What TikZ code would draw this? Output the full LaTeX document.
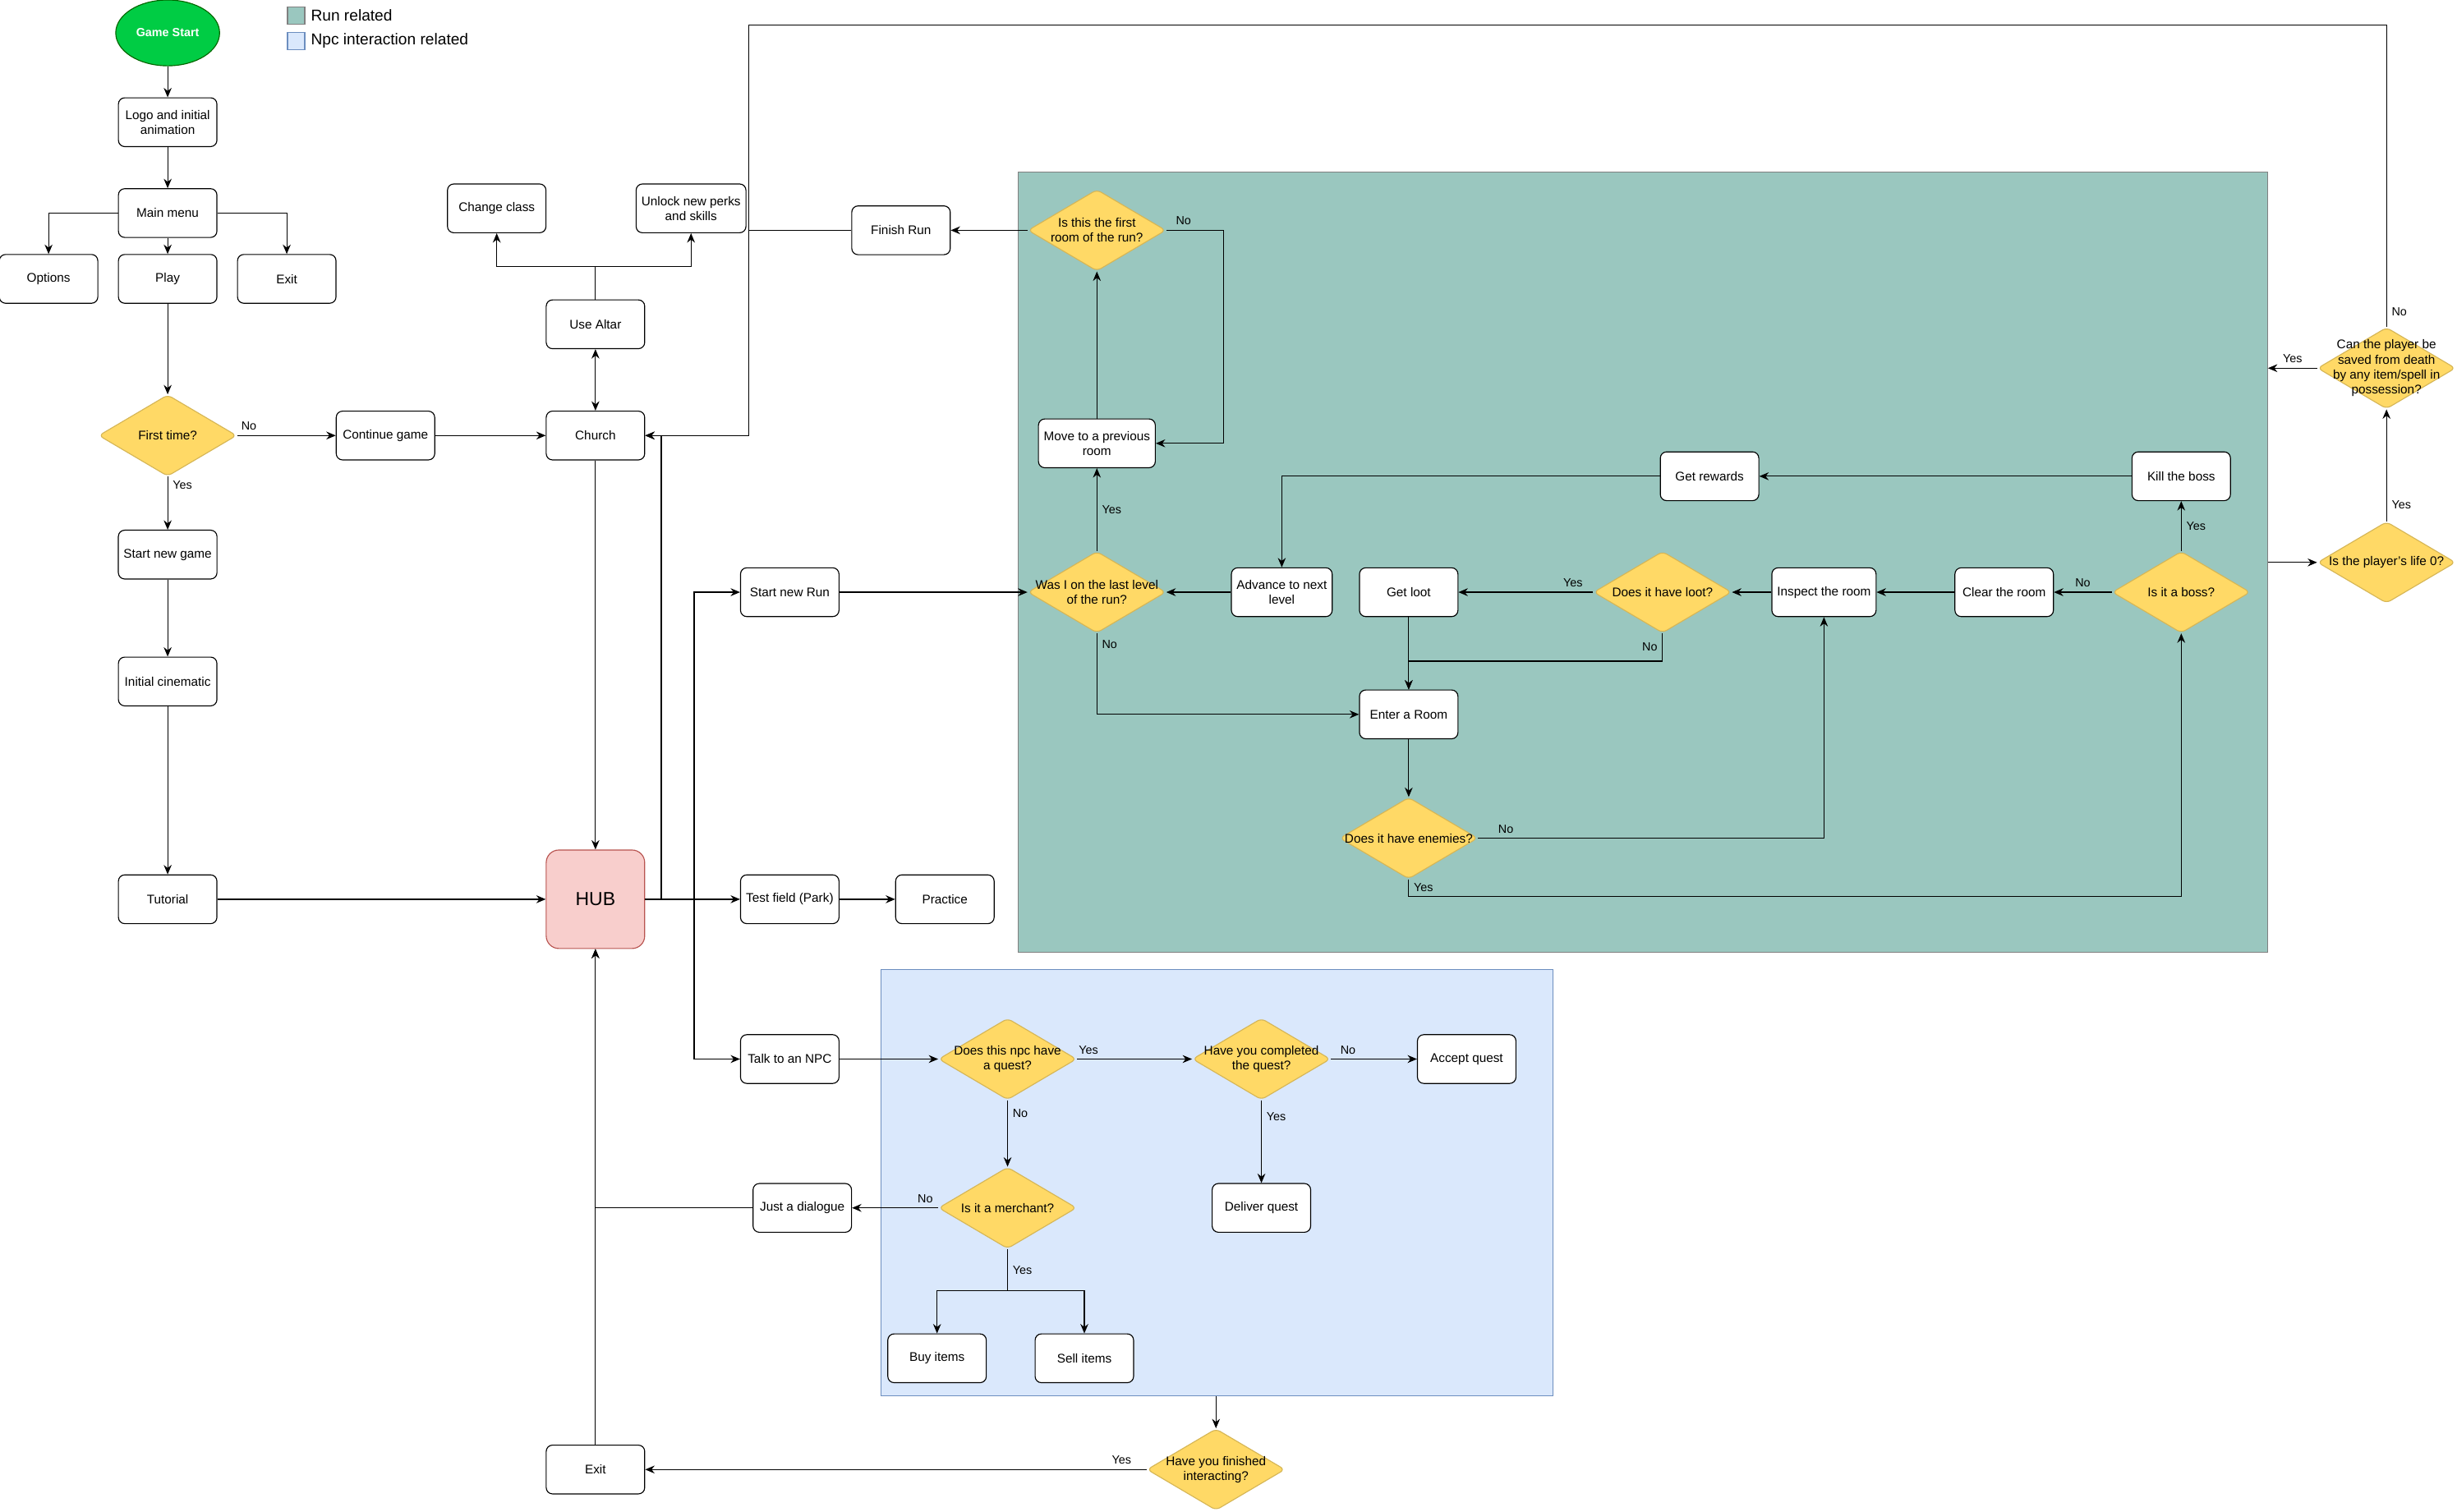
\documentclass[tikz,border=0pt]{standalone}
\usepackage{fontspec}
\setmainfont{Liberation Sans}
\usetikzlibrary{shapes.geometric,arrows.meta}
\definecolor{runfill}{HTML}{9AC7BF}
\definecolor{npcfill}{HTML}{DAE8FC}
\definecolor{npcdraw}{HTML}{6C8EBF}
\definecolor{decfill}{HTML}{FFD966}
\definecolor{decdraw}{HTML}{D6B656}
\definecolor{hubfill}{HTML}{F8CECC}
\definecolor{hubdraw}{HTML}{B85450}
\definecolor{startfill}{HTML}{00CC44}
\tikzset{
	box/.style = {draw, rounded corners = 4pt, fill = white, minimum width = 2.2cm, minimum height = 1.09cm, align = center, font = \fontsize{8}{9.5}\selectfont},
	decision/.style = {draw = decdraw, fill = decfill, diamond, rounded corners = 3pt, minimum width = 3.08cm, minimum height = 1.82cm, inner sep = 0pt},
	dtxt/.style = {align = center, font = \fontsize{8}{9.5}\selectfont},
	lbl/.style = {font = \fontsize{7.5}{9}\selectfont, inner sep = 3pt},
	arr/.style = {-{Stealth[length = 6pt, width = 5pt]}},
	area/.style = {draw, rectangle, inner sep = 0pt}
}
\begin{document}
\begin{tikzpicture}[x = 0.035cm, y = -0.035cm, line width = 0.6pt]
		\useasboundingbox (0,0) rectangle (1568,965);
		% background areas
		\node[area, draw = gray, fill = runfill, minimum width = 27.9cm, minimum height = 17.43cm] (run) at (1048.5,359) {};
		\node[area, draw = npcdraw, fill = npcfill, minimum width = 15.015cm, minimum height = 9.52cm] (npcarea) at (776.5,755) {};
		% legend
		\node[area, draw = gray, fill = runfill, minimum size = 0.385cm] (legrun) at (189,10) {};
		\node[anchor = west, font = \fontsize{10}{12}\selectfont] at (legrun.east) {Run related};
		\node[area, draw = npcdraw, fill = npcfill, minimum size = 0.385cm] (legnpc) at (189,26) {};
		\node[anchor = west, font = \fontsize{10}{12}\selectfont] at (legnpc.east) {Npc interaction related};
		% main flow
		\node[ellipse, draw = green!40!black, fill = startfill, minimum width = 2.2cm, minimum height = 1.47cm, text = white, font = \fontsize{7.5}{9}\selectfont\bfseries] (start) at (107,21) {Game Start};
		\node[box] (logo) at (107,78) {Logo and initial\\animation};
		\node[box] (menu) at (107,136) {Main menu};
		\node[box] (options) at (31,178) {Options};
		\node[box] (play) at (107,178) {Play};
		\node[box] (exit) at (183,178) {Exit};
		\node[decision, label = {[dtxt]center:First time?}] (first) at (107,278) {};
		\node[box] (continue) at (246,278) {Continue game};
		\node[box] (church) at (380,278) {Church};
		\node[box] (altar) at (380,207) {Use Altar};
		\node[box] (class) at (317,133) {Change class};
		\node[box] (perks) at (441,133) {Unlock new perks\\and skills};
		\node[box] (finish) at (575,147) {Finish Run};
		\node[box] (newgame) at (107,354) {Start new game};
		\node[box] (cinematic) at (107,435) {Initial cinematic};
		\node[box] (tutorial) at (107,574) {Tutorial};
		\node[box, draw = hubdraw, fill = hubfill, minimum height = 2.2cm, rounded corners = 8pt, font = \fontsize{12}{14}\selectfont] (hub) at (380,574) {HUB};
		\node[box] (newrun) at (504,378) {Start new Run};
		\node[box] (test) at (504,574) {Test field (Park)};
		\node[box] (practice) at (603,574) {Practice};
		\node[box] (talk) at (504,676) {Talk to an NPC};
		\node[box] (exitb) at (380,938) {Exit};
		\node[box] (dialogue) at (512,771) {Just a dialogue};
		% run
		\node[decision, label = {[dtxt]center:Is this the first\\room of the run?}] (firstroom) at (700,147) {};
		\node[box] (previous) at (700,283) {Move to a previous\\room};
		\node[decision, label = {[dtxt]center:Was I on the last level\\of the run?}] (lastlevel) at (700,378) {};
		\node[box] (advance) at (818,378) {Advance to next\\level};
		\node[box] (getloot) at (899,378) {Get loot};
		\node[decision, label = {[dtxt]center:Does it have loot?}] (hasloot) at (1061,378) {};
		\node[box] (inspect) at (1164,378) {Inspect the room};
		\node[box] (clear) at (1279,378) {Clear the room};
		\node[decision, label = {[dtxt]center:Is it a boss?}] (boss) at (1392,378) {};
		\node[box] (kill) at (1392,304) {Kill the boss};
		\node[box] (rewards) at (1091,304) {Get rewards};
		\node[box] (enter) at (899,456) {Enter a Room};
		\node[decision, label = {[dtxt]center:Does it have enemies?}] (enemies) at (899,535) {};
		\node[decision, label = {[dtxt]center:Is the player's life 0?}] (life) at (1523,359) {};
		\node[decision, label = {[dtxt]center:Can the player be\\saved from death\\by any item/spell in\\possession?}] (saved) at (1523,235) {};
		% npc
		\node[decision, label = {[dtxt]center:Does this npc have\\a quest?}] (quest) at (643,676) {};
		\node[decision, label = {[dtxt]center:Have you completed\\the quest?}] (completed) at (805,676) {};
		\node[box] (accept) at (936,676) {Accept quest};
		\node[box] (deliver) at (805,771) {Deliver quest};
		\node[decision, label = {[dtxt]center:Is it a merchant?}] (merchant) at (643,771) {};
		\node[box] (buy) at (598,867) {Buy items};
		\node[box] (sell) at (692,867) {Sell items};
		\node[decision, label = {[dtxt]center:Have you finished\\interacting?}] (finished) at (776,938) {};
		% connectors
		\draw[arr] (start) -- (logo);
		\draw[arr] (logo) -- (menu);
		\draw[arr] (menu) -- (play);
		\draw[arr] (menu.west) -| (options.north);
		\draw[arr] (menu.east) -| (exit.north);
		\draw[arr] (play) -- (first);
		\draw[arr] (first) -- node[lbl, above, pos = 0.12] {No} (continue);
		\draw[arr] (first) -- node[lbl, right, pos = 0.15] {Yes} (newgame);
		\draw[arr] (continue) -- (church);
		\draw[arr] (newgame) -- (cinematic);
		\draw[arr] (cinematic) -- (tutorial);
		\draw[arr] (tutorial) -- (hub);
		\draw[arr] (church) -- (hub);
		\draw[{Stealth[length = 6pt, width = 5pt]}-{Stealth[length = 6pt, width = 5pt]}] (church) -- (altar);
		\draw[arr] (altar.north) -- (380,170) -| (class.south);
		\draw[arr] (altar.north) -- (380,170) -| (perks.south);
		\coordinate (join) at (478,147);
		\draw (finish.west) -- (join);
		\draw[arr] (saved.north) -- node[lbl, right, pos = 0.05] {No} (1523,16) -| (join) |- (church.east);
		\draw[arr] (hub.east) -- (422,574) |- (church.east);
		\draw[arr] (hub.east) -- (443,574) |- (newrun.west);
		\draw[arr] (hub.east) -- (test.west);
		\draw[arr] (443,574) |- (talk.west);
		\draw[arr] (test) -- (practice);
		\draw[arr] (newrun) -- (lastlevel.west);
		\draw[arr] (talk) -- (quest);
		% run connectors
		\draw[arr] (firstroom.west) -- (finish.east);
		\draw[arr] (firstroom.east) -- node[lbl, above, pos = 0.3] {No} (781,147) |- (previous.east);
		\draw[arr] (previous) -- (firstroom);
		\draw[arr] (lastlevel) -- node[lbl, right] {Yes} (previous);
		\draw[arr] (lastlevel.south) |- node[lbl, right, pos = 0.07] {No} (enter.west);
		\draw[arr] (advance) -- (lastlevel);
		\draw[arr] (rewards.west) -| (advance.north);
		\draw[arr] (kill) -- (rewards);
		\draw[arr] (boss) -- node[lbl, right] {Yes} (kill);
		\draw[arr] (boss) -- node[lbl, above] {No} (clear);
		\draw[arr] (clear) -- (inspect);
		\draw[arr] (inspect) -- (hasloot);
		\draw[arr] (hasloot) -- node[lbl, above, pos = 0.15] {Yes} (getloot);
		\draw[arr] (hasloot.south) -- node[lbl, left] {No} (1061,422) -| (enter.north);
		\draw[arr] (getloot) -- (enter);
		\draw[arr] (enter) -- (enemies);
		\draw[arr] (enemies.east) -| node[lbl, above, pos = 0.04] {No} (inspect.south);
		\draw[arr] (enemies.south) -- node[lbl, right] {Yes} (899,572) -| (boss.south);
		\draw[arr] (run.east |- life.west) -- (life.west);
		\draw[arr] (life) -- node[lbl, right, pos = 0.15] {Yes} (saved);
		\draw[arr] (saved.west) -- node[lbl, above] {Yes} (run.east |- saved.west);
		% npc connectors
		\draw[arr] (quest) -- node[lbl, above, pos = 0.1] {Yes} (completed);
		\draw[arr] (completed) -- node[lbl, above, pos = 0.2] {No} (accept);
		\draw[arr] (completed) -- node[lbl, right, pos = 0.2] {Yes} (deliver);
		\draw[arr] (quest) -- node[lbl, right, pos = 0.2] {No} (merchant);
		\draw[arr] (merchant) -- node[lbl, above, pos = 0.15] {No} (dialogue);
		\draw[arr] (dialogue.west) -| (hub.south);
		\draw[arr] (exitb) -- (hub);
		\draw[arr] (merchant.south) -- node[lbl, right] {Yes} (643,824) -| (buy.north);
		\draw[arr] (643,824) -| (sell.north);
		\draw[arr] (npcarea.south -| finished.north) -- (finished.north);
		\draw[arr] (finished) -- node[lbl, above, pos = 0.05] {Yes} (exitb);
	\end{tikzpicture}
\end{document}
